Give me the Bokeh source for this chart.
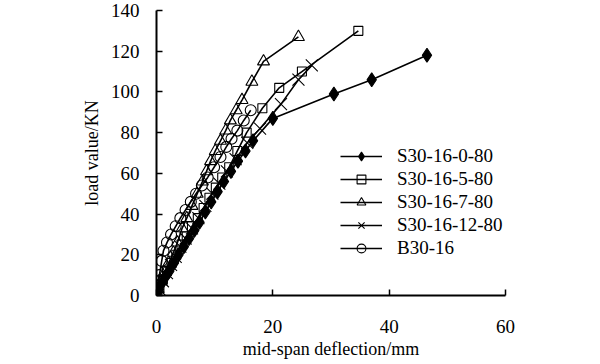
from bokeh.plotting import figure
from bokeh.models import Range1d, FixedTicker
from bokeh.embed import file_html
from bokeh.resources import INLINE

# ---- data ----
s0_x = [0, 0.4, 0.9, 1.5, 2.2, 3.0, 3.8, 4.7, 5.6, 6.5, 7.4, 8.4, 9.4, 10.5, 11.6, 12.8, 14.0, 15.3, 16.6, 20.0, 30.5, 37.0, 46.5]
s0_y = [0, 3, 6, 9, 12, 16, 20, 24, 28, 32, 36, 41, 46, 51, 56, 61, 66, 71, 76, 87, 99, 106, 118]

s5_x = [0, 0.5, 1.1, 1.8, 2.6, 3.4, 4.3, 5.2, 6.1, 7.1, 8.1, 9.1, 10.2, 11.3, 12.5, 13.9, 15.5, 18.2, 21.1, 25.0, 34.7]
s5_y = [0, 4, 8, 12, 16, 20, 25, 29, 34, 38, 43, 48, 53, 58, 63, 71, 80, 92, 102, 110, 130]

s7_x = [0, 0.3, 0.8, 1.4, 2.1, 2.9, 3.6, 4.4, 5.2, 6.1, 7.0, 7.9, 8.6, 9.3, 10.1, 11.0, 11.9, 12.7, 13.7, 14.7, 16.4, 18.4, 24.4]
s7_y = [0, 3, 7, 11, 16, 21, 26, 33, 38, 44, 50, 56, 61, 66, 71, 76, 81, 86, 91, 96, 105, 115, 127]

s12_x = [0, 0.5, 1.1, 1.8, 2.5, 3.3, 4.1, 5.0, 6.1, 7.2, 8.4, 9.6, 10.8, 12.1, 13.6, 15.6, 17.8, 21.4, 24.4, 26.7]
s12_y = [0, 3, 7, 11, 15, 19, 24, 28, 33, 38, 44, 50, 55, 61, 67, 75, 82, 94, 106, 113]

b_x = [0, 0.2, 0.5, 0.9, 1.2, 1.8, 2.5, 3.3, 4.1, 5.0, 5.9, 6.8, 7.8, 8.8, 9.9, 11.0, 12.0, 12.9, 13.9, 15.0, 16.2]
b_y = [0, 5, 10, 17, 22, 26, 30, 34, 38, 42, 46, 50, 54, 58, 63, 68, 73, 77, 81, 86, 91]

names = ["S30-16-0-80", "S30-16-5-80", "S30-16-7-80", "S30-16-12-80", "B30-16"]
x_ticks = [0, 20, 40, 60]
y_ticks = [0, 20, 40, 60, 80, 100, 120, 140]

FONT = "Liberation Serif"

p = figure(width=600, height=364, output_backend="svg", toolbar_location=None,
           x_range=Range1d(0, 60), y_range=Range1d(0, 140),
           min_border_left=156, min_border_right=95, min_border_top=10, min_border_bottom=69)
p.outline_line_color = None
p.xgrid.visible = False
p.ygrid.visible = False
p.background_fill_color = "white"

series = [
    (s0_x, s0_y, "diamond", 14, "black"),
    (s5_x, s5_y, "square", 9, "white"),
    (s7_x, s7_y, "triangle", 12, "white"),
    (s12_x, s12_y, "x", 17, "white"),
    (b_x, b_y, "circle", 11, "white"),
]
for (xs, ys, mk, sz, fc), nm in zip(series, names):
    p.line(xs, ys, line_color="black", line_width=1.6, legend_label=nm)
    p.scatter(xs, ys, marker=mk, size=sz, fill_color=fc, fill_alpha=1.0 if fc == "black" else 0.0,
              line_color="black", line_width=1.1, legend_label=nm)

for ax in (p.xaxis[0], p.yaxis[0]):
    ax.axis_line_color = "black"
    ax.axis_line_width = 2
    ax.major_tick_line_color = "black"
    ax.major_tick_line_width = 1.5
    ax.major_tick_in = 6
    ax.major_tick_out = 0
    ax.minor_tick_line_color = None
    ax.major_label_text_font = FONT
    ax.major_label_text_font_size = "19px"
    ax.major_label_text_color = "black"
    ax.axis_label_text_font = FONT
    ax.axis_label_text_font_size = "18px"
    ax.axis_label_text_font_style = "normal"
    ax.axis_label_text_color = "black"

p.xaxis.ticker = FixedTicker(ticks=x_ticks)
p.yaxis.ticker = FixedTicker(ticks=y_ticks)
p.xaxis.axis_label = "mid-span deflection/mm"
p.yaxis.axis_label = "load value/KN"
p.xaxis.major_label_standoff = 24
p.xaxis.axis_label_standoff = 3
p.yaxis.major_label_standoff = 17
p.yaxis.axis_label_standoff = 6

lg = p.legend[0]
lg.location = (184, 36)
lg.border_line_color = None
lg.background_fill_alpha = 0
lg.padding = 0
lg.margin = 0
lg.spacing = 1
lg.glyph_width = 42
lg.glyph_height = 22
lg.label_height = 22
lg.label_standoff = 15
lg.label_text_font = FONT
lg.label_text_font_size = "19px"
lg.label_text_color = "black"

open("out.html", "w").write(file_html(p, INLINE))
